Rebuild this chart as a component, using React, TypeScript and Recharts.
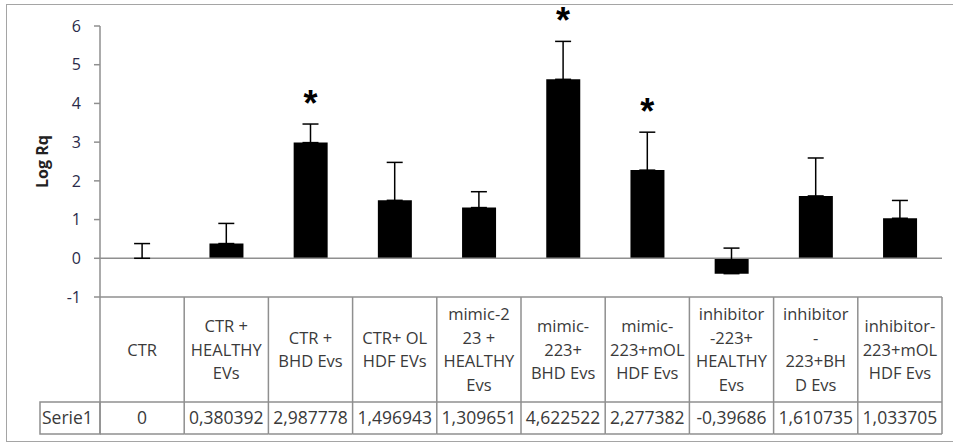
import React from 'react';
import {ComposedChart, Bar, Scatter, XAxis, YAxis, ErrorBar, ReferenceLine} from 'recharts';

const categories = [
    'CTR',
    'CTR +\nHEALTHY\nEVs',
    'CTR +\nBHD Evs',
    'CTR+ OL\nHDF EVs',
    'mimic-2\n23 +\nHEALTHY\nEvs',
    'mimic-\n223+\nBHD Evs',
    'mimic-\n223+mOL\nHDF Evs',
    'inhibitor\n-223+\nHEALTHY\nEvs',
    'inhibitor\n-\n223+BH\nD Evs',
    'inhibitor-\n223+mOL\nHDF Evs',
];
const serie1 = [0, 0.380392, 2.987778, 1.496943, 1.309651, 4.622522, 2.277382, -0.39686, 1.610735, 1.033705];
const errors = [0.38, 0.52, 0.48, 0.98, 0.41, 0.98, 0.98, 0.66, 0.98, 0.46];
const significant = [false, false, true, false, false, true, true, false, false, false];
const yTicks = [-1, 0, 1, 2, 3, 4, 5, 6];
const seriesName = 'Serie1';

const data = categories.map((name, i) => ({
    name,
    value: serie1[i],
    err: [0, errors[i]],
    star: significant[i] ? serie1[i] + errors[i] : null,
}));

const GRID = '#8f8f8f';
const TEXT = '#3a3a3a';
const FONT = '"Open Sans", sans-serif';

const HEADER_H = 105;
const ROW_H = 32;
const LINE_H = 23.7;

const TableTick = (props: any) => {
    const {x, y, width, index, payload} = props;
    const bw = width / categories.length;
    const left = x - bw / 2;
    const right = x + bw / 2;
    const lines = String(payload.value).split('\n');
    const mid = y + HEADER_H / 2;
    const first = mid - ((lines.length - 1) * LINE_H) / 2 + 6;
    const label = String(serie1[index]).replace('.', ',');
    return (
        <g>
            {index === 0 && (
                <>
                    <line x1={left} x2={left} y1={y} y2={y + HEADER_H + ROW_H} stroke={GRID} strokeWidth={1.5}/>
                    <rect x={left - 60} y={y + HEADER_H} width={60} height={ROW_H} fill="none" stroke={GRID} strokeWidth={1.5}/>
                    <text x={left - 58} y={y + HEADER_H + ROW_H / 2 + 6} fontSize={17.5} fill={TEXT} fontFamily={FONT}>{seriesName}</text>
                </>
            )}
            <line x1={right} x2={right} y1={y} y2={y + HEADER_H + ROW_H} stroke={GRID} strokeWidth={1.5}/>
            <line x1={left} x2={right} y1={y + HEADER_H} y2={y + HEADER_H} stroke={GRID} strokeWidth={1.5}/>
            <line x1={left} x2={right} y1={y + HEADER_H + ROW_H} y2={y + HEADER_H + ROW_H} stroke={GRID} strokeWidth={1.5}/>
            {lines.map((t, k) => (
                <text key={k} x={x} y={first + k * LINE_H} textAnchor="middle" fontSize={16.5} fill={TEXT} fontFamily={FONT}>{t}</text>
            ))}
            <text x={x} y={y + HEADER_H + ROW_H / 2 + 6} textAnchor="middle" fontSize={17.5} fill={TEXT} fontFamily={FONT}>{label}</text>
        </g>
    );
};

const Star = (props: any) => {
    const {cx, cy, payload} = props;
    if (payload == null || payload.star == null || cx == null || cy == null || isNaN(cy)) return <g/>;
    return (
        <text x={cx} y={cy - 8} textAnchor="middle" fontSize={36} fontWeight="bold" fill="#000" fontFamily="Liberation Sans, Arial, sans-serif">*</text>
    );
};

const Hidden = () => <g/>;

const YLabel = (props: any) => {
    const {viewBox} = props;
    const cy = viewBox.y + viewBox.height / 2;
    return (
        <text x={48} y={cy} transform={`rotate(-90 48 ${cy})`} textAnchor="middle" fontSize={16} fontWeight="bold" fill="#222" fontFamily={FONT}>Log Rq</text>
    );
};

export default function App() {
    return (
        <div style={{position: 'absolute', left: 0, top: 0, width: 953, height: 444, background: '#fff', overflow: 'hidden'}}>
            <div style={{position: 'absolute', left: 6, top: 4, width: 1000, height: 436, border: '1.5px solid #a5a5a5'}}/>
            <ComposedChart width={953} height={444} data={data} margin={{top: 26, right: 11, bottom: 10, left: 40}} barCategoryGap="30%">
                <XAxis dataKey="name" height={137} tickSize={0} tickMargin={0} tickLine={false} axisLine={{stroke: GRID, strokeWidth: 1.5}} tick={<TableTick/>} interval={0}/>
                <YAxis width={60} domain={[-1, 6]} ticks={yTicks} interval={0} tickSize={6} tickMargin={13}
                       axisLine={{stroke: GRID, strokeWidth: 1.5}} tickLine={{stroke: GRID, strokeWidth: 1.5}}
                       tick={{fontSize: 16, fill: '#2a2a4a', fontFamily: FONT}} label={<YLabel/>}/>
                <ReferenceLine y={0} stroke={GRID} strokeWidth={1.5}/>
                <Bar dataKey="value" fill="#000" isAnimationActive={false}/>
                <Scatter dataKey="value" shape={<Hidden/>} isAnimationActive={false}>
                    <ErrorBar dataKey="err" direction="y" width={8} stroke="#000" strokeWidth={1.5}/>
                </Scatter>
                <Scatter dataKey="star" shape={<Star/>} isAnimationActive={false}/>
            </ComposedChart>
        </div>
    );
}
